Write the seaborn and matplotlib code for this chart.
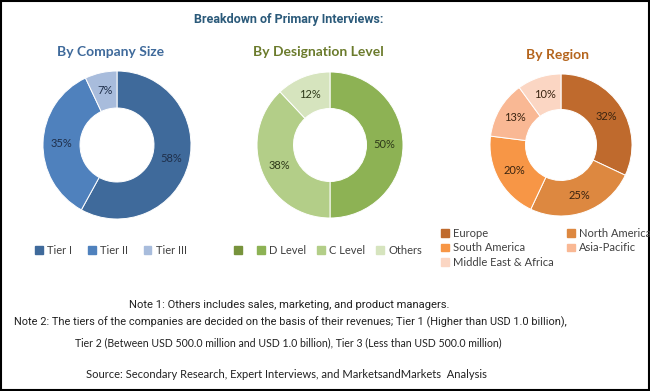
import matplotlib
matplotlib.use("Agg")
import matplotlib.pyplot as plt
import matplotlib.patches as mpatches
import seaborn as sns

# chart data
size_labels = ["Tier I", "Tier II", "Tier III"]
size_values = [58, 35, 7]
size_colors = ["#3F6A9B", "#4F81BD", "#A8BCDC"]

desig_labels = ["D Level", "C Level", "Others"]
desig_values = [50, 38, 12]
desig_colors = ["#8DB254", "#B3CE88", "#D6E4BE"]

region_labels = ["Europe", "North America", "South America", "Asia-Pacific", "Middle East & Africa"]
region_values = [32, 25, 20, 13, 10]
region_colors = ["#BF6A2D", "#DD8840", "#F79646", "#F9B894", "#FBD6C3"]

title = "Breakdown of Primary Interviews:"
note1 = "Note 1: Others includes sales, marketing, and product managers."
note2 = "Note 2: The tiers of the companies are decided on the basis of their revenues; Tier 1 (Higher than USD 1.0 billion),"
note3 = "Tier 2 (Between USD 500.0 million and USD 1.0 billion), Tier 3 (Less than USD 500.0 million)"
source = "Source: Secondary Research, Expert Interviews, and MarketsandMarkets  Analysis"

sns.set_theme(style="white")
plt.rcParams["font.family"] = ["Lato", "DejaVu Sans"]

W, H = 650, 391
fig = plt.figure(figsize=(W / 100, H / 100), dpi=100)
fig.patch.set_facecolor("white")


def px(x, y):
    return x / W, 1 - y / H


def donut(cx, cy, r, values, colors, txt_color):
    ax = fig.add_axes([(cx - r) / W, 1 - (cy + r) / H, 2 * r / W, 2 * r / H])
    ax.pie(values, colors=colors, startangle=90, counterclock=False,
           wedgeprops=dict(width=0.5, edgecolor="white", linewidth=0.7),
           autopct=lambda p: f"{p:.0f}%", pctdistance=0.75,
           textprops=dict(color=txt_color, fontsize=8))
    ax.set_xlim(-1, 1)
    ax.set_ylim(-1, 1)
    ax.set_aspect("equal")
    ax.axis("off")
    return ax


donut(117, 145, 74, size_values, size_colors, "#1F2F4A")
donut(330, 145, 73, desig_values, desig_colors, "#2F3A1A")
donut(561, 145, 71, region_values, region_colors, "#3A2410")

# titles
fig.text(*px(289, 20), title, ha="center", va="center", fontsize=9,
         fontweight="bold", color="#2B5A7A", family="Roboto")
fig.text(*px(111, 52), "By Company Size", ha="center", va="center",
         fontsize=10, fontweight="bold", color="#3F6A9B")
fig.text(*px(318, 52), "By Designation Level", ha="center", va="center",
         fontsize=10, fontweight="bold", color="#6B7B2C")
fig.text(*px(558, 55), "By Region", ha="center", va="center",
         fontsize=10, fontweight="bold", color="#B5651D")

# legends
leg_kw = dict(frameon=False, fontsize=8, handlelength=0.7, handleheight=0.7,
              handletextpad=0.4, labelcolor="#404040")

h1 = [mpatches.Patch(color=c) for c in size_colors]
fig.legend(h1, size_labels, ncol=3, loc="center", bbox_to_anchor=px(111, 250),
           columnspacing=1.4, **leg_kw)

h2 = [mpatches.Patch(color="#77933C")] + [mpatches.Patch(color=c) for c in desig_colors]
fig.legend(h2, [""] + desig_labels, ncol=4, loc="center", bbox_to_anchor=px(328, 250),
           columnspacing=0.95, **leg_kw)

order = [0, 2, 4, 1, 3]
h3 = [mpatches.Patch(color=region_colors[i]) for i in order]
fig.legend(h3, [region_labels[i] for i in order], ncol=2, loc="upper left",
           bbox_to_anchor=px(431, 218), columnspacing=1.15, labelspacing=0.3, **leg_kw)

# notes
fig.text(*px(289, 305), note1, ha="center", va="center", fontsize=8.1, color="#222222", family="Roboto")
fig.text(*px(290, 322), note2, ha="center", va="center", fontsize=7.95, color="#222222", family="Roboto")
fig.text(*px(288, 343), note3, ha="center", va="center", fontsize=7.6, color="#222222")
fig.text(*px(286, 375), source, ha="center", va="center", fontsize=8, color="#222222")

# border
fig.add_artist(mpatches.Rectangle((0.001, 0.002), 0.997, 0.995, transform=fig.transFigure,
                                  fill=False, edgecolor="black", linewidth=1.5))

fig.savefig("out.png", dpi=100)
